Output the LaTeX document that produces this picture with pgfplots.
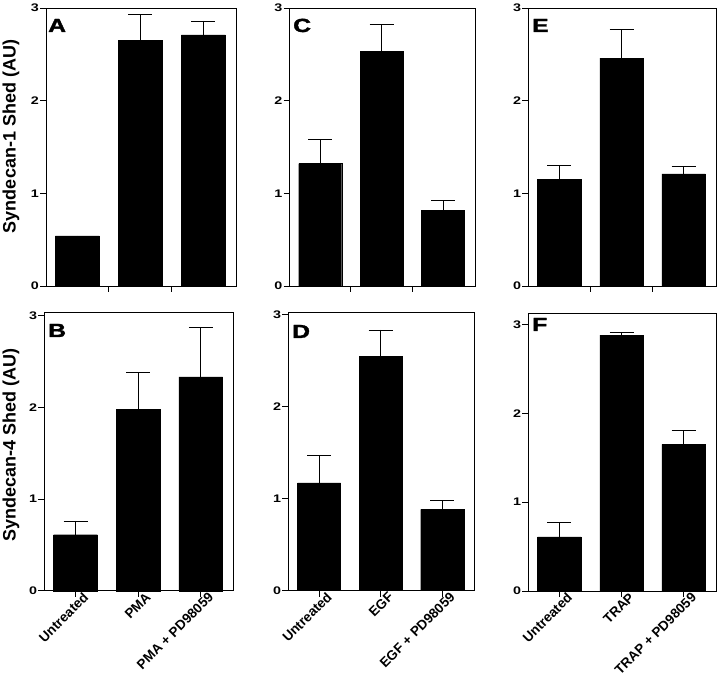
\documentclass[border=0pt]{standalone}
\usepackage{pgfplots}
\pgfplotsset{compat=1.18}
\usepackage{fontspec}
\setmainfont{Liberation Sans}
\newfontfamily\heavyfont[BoldFeatures={FakeBold=1.6}]{Liberation Sans}
\usepackage{graphicx}
\pgfplotsset{
  panel/.style={
    scale only axis, height=278pt,
    anchor=south west,
    ymin=0, ytick={0,1,2,3},
    xmin=-0.5, xmax=2.52,
    tick align=outside, tick pos=left,
    major tick length=6pt,
    axis line style={line width=0.9pt},
    every tick/.style={black, line width=0.9pt},
    ybar, bar width=0.7,
    clip=false,
    yticklabel={\scalebox{1.3}[1]{\pgfmathprintnumber[assume math mode=true]{\tick}}},
    yticklabel style={font=\bfseries\fontsize{11}{11}\selectfont, inner sep=1pt},
  },
  toprow/.style={panel, xtick={0.5,1.5}, xticklabels={}},
  botrow/.style={panel, xtick={0,1,2},
    xticklabel style={rotate=45, anchor=east, font=\bfseries\fontsize{13.5}{13.5}\selectfont,
      inner sep=1.5pt, xshift=10pt, yshift=-6pt}},
  barstyle/.style={fill=black, draw=black, bar shift=0pt,
    error bars/.cd, y dir=plus, y explicit,
    error bar style={line width=0.9pt, black},
    error mark options={black, line width=0.9pt, mark size=12pt, rotate=90}},
}
\newcommand{\plet}[1]{\heavyfont\bfseries\fontsize{19}{19}\selectfont\scalebox{1.3}[1]{#1}}
\begin{document}
\begin{tikzpicture}
\useasboundingbox (0pt,0pt) rectangle (720pt,-684pt);
% Panel A
\begin{axis}[toprow, at={(46pt,-286pt)}, width=190pt, ymax=3]
\addplot[barstyle] coordinates {(0,0.54) +- (0,0) (1,2.65) +- (0,0.28) (2,2.71) +- (0,0.15)};
\end{axis}
% Panel C
\begin{axis}[toprow, at={(289.5pt,-286pt)}, width=185.5pt, ymax=3]
\addplot[barstyle] coordinates {(0,1.32) +- (0,0.26) (1,2.53) +- (0,0.29) (2,0.82) +- (0,0.10)};
\end{axis}
% Panel E
\begin{axis}[toprow, at={(528.3pt,-286pt)}, width=187.7pt, ymax=3]
\addplot[barstyle] coordinates {(0,1.15) +- (0,0.15) (1,2.46) +- (0,0.31) (2,1.21) +- (0,0.08)};
\end{axis}
% Panel B
\begin{axis}[botrow, at={(44.3pt,-590.7pt)}, width=189pt, ymax=3.03,
  xticklabels={Untreated, PMA, PMA + PD98059}]
\addplot[barstyle] coordinates {(0,0.61) +- (0,0.15) (1,1.98) +- (0,0.40) (2,2.33) +- (0,0.54)};
\end{axis}
% Panel D
\begin{axis}[botrow, at={(288.3pt,-590.5pt)}, width=186pt, ymax=3.02,
  xticklabels={Untreated, EGF, EGF + PD98059}]
\addplot[barstyle] coordinates {(0,1.17) +- (0,0.30) (1,2.54) +- (0,0.29) (2,0.88) +- (0,0.10)};
\end{axis}
% Panel F
\begin{axis}[botrow, at={(528.3pt,-591pt)}, width=187.7pt, ymax=3.13,
  xticklabels={Untreated, TRAP, TRAP + PD98059}]
\addplot[barstyle] coordinates {(0,0.61) +- (0,0.16) (1,2.88) +- (0,0.03) (2,1.65) +- (0,0.16)};
\end{axis}
% y labels
\node[rotate=90, font=\bfseries\fontsize{18}{18}\selectfont] at (11pt,-136.5pt) {Syndecan-1 Shed (AU)};
\node[rotate=90, font=\bfseries\fontsize{18}{18}\selectfont] at (11pt,-445pt) {Syndecan-4 Shed (AU)};
% panel letters
\node[anchor=base west, inner sep=0pt] at (48pt,-32pt) {\plet{A}};
\node[anchor=base west, inner sep=0pt] at (48pt,-337pt) {\plet{B}};
\node[anchor=base west, inner sep=0pt] at (293pt,-32pt) {\plet{C}};
\node[anchor=base west, inner sep=0pt] at (292pt,-338pt) {\plet{D}};
\node[anchor=base west, inner sep=0pt] at (532pt,-32pt) {\plet{E}};
\node[anchor=base west, inner sep=0pt] at (532pt,-331pt) {\plet{F}};
\end{tikzpicture}
\end{document}
